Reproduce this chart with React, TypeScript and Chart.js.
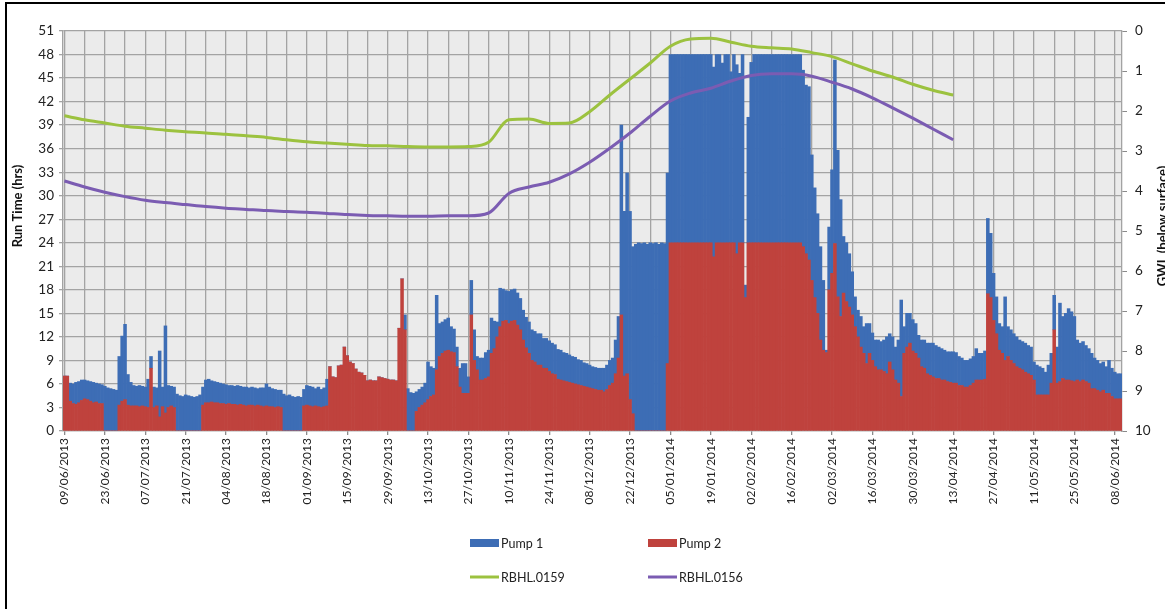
import React, { useEffect, useRef } from 'react';
import { Chart, registerables } from 'chart.js';

Chart.register(...registerables);

// Tick labels (every 14 days, starting 09/06/2013)
const tickLabels = [
  '09/06/2013', '23/06/2013', '07/07/2013', '21/07/2013', '04/08/2013', '18/08/2013',
  '01/09/2013', '15/09/2013', '29/09/2013', '13/10/2013', '27/10/2013', '10/11/2013',
  '24/11/2013', '08/12/2013', '22/12/2013', '05/01/2014', '19/01/2014', '02/02/2014',
  '16/02/2014', '02/03/2014', '16/03/2014', '30/03/2014', '13/04/2014', '27/04/2014',
  '11/05/2014', '25/05/2014', '08/06/2014',
];

// Daily run time (hrs), day 0 = 09/06/2013
const pump2 = [
  7.0, 7.0, 3.8, 3.5, 3.4, 3.6, 3.9, 4.1, 4.0, 3.8,
  3.6, 3.7, 3.5, 3.5, 0, 0, 0, 0, 0, 3.3,
  3.8, 4.0, 3.3, 3.2, 3.2, 3.2, 3.1, 3.2, 3.1, 3.0,
  8.0, 3.0, 3.2, 1.8, 3.1, 2.3, 3.0, 3.2, 3.0, 0,
  0, 0, 0, 0, 0, 0, 0, 0, 3.3, 3.6,
  3.6, 3.7, 3.6, 3.6, 3.5, 3.5, 3.4, 3.5, 3.4, 3.4,
  3.3, 3.4, 3.3, 3.2, 3.3, 3.3, 3.2, 3.3, 3.2, 3.1,
  3.2, 3.1, 3.1, 3.0, 3.1, 3.0, 0, 0, 0, 0,
  0, 0, 0, 3.2, 3.3, 3.2, 3.1, 3.2, 3.1, 3.0,
  3.1, 3.2, 8.2, 6.9, 6.8, 8.3, 8.4, 10.7, 9.6, 8.8,
  8.6, 7.9, 7.5, 7.4, 7.1, 6.4, 6.5, 6.4, 6.4, 6.9,
  6.8, 6.7, 6.6, 6.5, 6.5, 6.4, 13.1, 19.4, 12.9, 0,
  0, 0, 2.5, 3.0, 3.3, 3.6, 4.0, 4.4, 4.6, 7.8,
  9.5, 9.9, 10.2, 10.3, 10.1, 10.0, 8.2, 5.6, 4.8, 4.8,
  4.8, 14.8, 9.0, 7.8, 6.5, 6.5, 6.7, 6.9, 9.9, 10.5,
  12.0, 13.3, 14.0, 14.1, 13.7, 14.0, 14.1, 13.5, 12.9, 11.6,
  10.6, 9.9, 9.0, 8.8, 8.4, 8.4, 8.0, 8.0, 7.6, 7.3,
  7.2, 6.6, 6.5, 6.4, 6.3, 6.2, 6.1, 6.0, 5.9, 5.8,
  5.7, 5.6, 5.5, 5.4, 5.3, 5.2, 5.2, 5.0, 5.3, 5.8,
  6.1, 7.3, 9.3, 14.8, 7.0, 7.3, 4.0, 2.2, 0, 0,
  0, 0, 0, 0, 0, 0, 0, 0, 0, 8.6,
  24, 24, 24, 24, 24, 24, 24, 24, 24, 24,
  24, 24, 24, 24, 24, 22.2, 24, 24, 24, 24,
  24, 24, 24, 22.6, 24, 24, 17.0, 24, 24, 24,
  24, 24, 24, 24, 24, 24, 24, 24, 24, 24,
  24, 24, 24, 24, 24, 24, 23.5, 22.6, 21.8, 19.2,
  17.0, 15.0, 11.6, 10.3, 10.0, 18.0, 20.1, 23.9, 17.1, 14.6,
  17.6, 16.5, 15.8, 14.8, 13.3, 12.0, 10.7, 9.9, 8.6, 9.9,
  9.0, 8.2, 7.8, 7.8, 7.6, 7.3, 8.8, 7.8, 6.5, 6.1,
  4.4, 9.9, 10.7, 11.2, 10.2, 9.9, 9.3, 8.2, 8.0, 7.3,
  7.1, 6.9, 6.7, 6.7, 6.5, 6.5, 6.3, 6.2, 6.1, 6.1,
  5.8, 5.8, 5.6, 5.6, 5.8, 6.1, 6.5, 6.5, 6.5, 6.6,
  17.5, 17.0, 14.1, 12.4, 10.3, 9.9, 9.0, 9.5, 9.0, 8.6,
  8.2, 8.0, 7.8, 7.5, 7.3, 7.1, 6.5, 4.6, 4.6, 4.6,
  4.6, 4.6, 6.1, 12.9, 6.1, 6.3, 6.7, 6.5, 6.5, 6.4,
  6.3, 6.5, 6.3, 6.5, 6.3, 6.1, 5.4, 5.4, 5.2, 5.0,
  5.2, 4.8, 4.8, 4.4, 4.1, 4.1, 4.1,
];

const pump1 = [
  0, 0, 2.3, 2.5, 2.8, 2.7, 2.6, 2.4, 2.4, 2.5,
  2.6, 2.4, 2.5, 2.4, 5.7, 5.5, 5.4, 5.3, 5.2, 6.2,
  8.3, 9.6, 3.9, 3.0, 2.6, 2.5, 2.7, 2.5, 2.5, 3.6,
  1.5, 2.6, 2.3, 8.4, 2.5, 11.1, 2.8, 2.5, 2.6, 4.7,
  4.5, 4.4, 4.6, 4.5, 4.4, 4.3, 4.4, 4.6, 2.3, 2.9,
  3.0, 2.7, 2.7, 2.6, 2.6, 2.5, 2.5, 2.3, 2.4, 2.3,
  2.5, 2.3, 2.3, 2.4, 2.2, 2.3, 2.3, 2.1, 2.3, 2.4,
  2.8, 2.5, 2.3, 2.3, 2.1, 2.2, 4.7, 4.5, 4.6, 4.4,
  4.3, 4.4, 4.3, 2.1, 2.5, 2.5, 2.5, 2.2, 2.5, 2.3,
  2.4, 3.4, 0, 0, 0, 0, 0, 0, 0, 0,
  0, 0, 0, 0, 0, 0, 0, 0, 0, 0,
  0, 0, 0, 0, 0, 0, 0, 0, 1.9, 5.4,
  4.9, 4.8, 2.5, 2.3, 2.3, 2.5, 4.8, 3.8, 3.4, 9.5,
  4.2, 4.0, 4.0, 4.1, 3.2, 3.0, 2.5, 2.4, 3.8, 3.8,
  2.1, 4.4, 3.9, 1.7, 2.8, 2.8, 3.3, 3.4, 4.5, 3.5,
  1.9, 4.9, 4.1, 3.8, 4.1, 4.0, 4.0, 4.1, 4.0, 3.8,
  3.9, 4.0, 3.9, 3.9, 4.0, 4.0, 3.8, 3.8, 3.9, 3.9,
  3.8, 3.8, 3.8, 3.6, 3.6, 3.5, 3.4, 3.4, 3.2, 3.2,
  3.0, 3.0, 2.9, 2.8, 2.8, 2.8, 2.8, 3.0, 3.1, 3.2,
  3.2, 4.3, 5.3, 24.2, 21.0, 25.6, 24.0, 21.3, 23.8, 24.0,
  23.9, 24.0, 23.8, 24.0, 23.9, 24.0, 23.8, 24.0, 23.9, 24.3,
  24, 24, 24, 24, 24, 24, 24, 24, 24, 24,
  24, 24, 24, 24, 24, 24.2, 24, 24, 22.9, 24,
  24, 21.8, 24, 24.1, 21.6, 24, 1.6, 16.0, 23.0, 24,
  24, 24, 24, 24, 24, 24, 24, 24, 24, 24,
  24, 24, 24, 24, 24, 24, 22.5, 21.5, 22.1, 16.0,
  14.0, 12.7, 11.9, 8.9, 0.3, 8.0, 13.2, 23.4, 18.7, 14.9,
  7.2, 7.5, 6.8, 5.5, 3.8, 3.4, 3.9, 3.4, 5.1, 3.8,
  3.5, 3.4, 3.8, 3.6, 4.0, 4.7, 3.6, 4.2, 4.2, 5.5,
  12.3, 3.4, 4.3, 3.8, 4.0, 3.8, 2.9, 3.4, 3.6, 3.9,
  4.1, 4.3, 4.2, 4.0, 4.0, 3.8, 3.8, 3.9, 4.0, 3.9,
  3.7, 3.5, 3.4, 3.4, 3.4, 3.4, 4.0, 3.4, 3.4, 3.6,
  9.6, 8.2, 6.0, 4.7, 3.4, 3.4, 8.1, 3.8, 3.9, 3.8,
  3.8, 3.6, 3.6, 3.7, 3.6, 3.6, 2.3, 3.8, 3.6, 3.4,
  2.9, 3.8, 3.8, 4.4, 4.6, 10.0, 7.9, 8.5, 9.1, 8.8,
  8.3, 5.1, 4.9, 4.9, 4.6, 4.4, 4.5, 3.9, 3.8, 3.6,
  3.6, 3.4, 4.2, 3.6, 3.4, 3.2, 3.2,
];

// Groundwater level (m below surface), weekly readings from 09/06/2013
const rbhl0159 = [
  2.12, 2.22, 2.30, 2.38, 2.43, 2.48, 2.52, 2.55, 2.58, 2.62,
  2.66, 2.72, 2.77, 2.80, 2.83, 2.86, 2.87, 2.89, 2.90, 2.90,
  2.89, 2.78, 2.22, 2.20, 2.31, 2.30, 2.02, 1.60, 1.20, 0.80,
  0.38, 0.20, 0.18, 0.28, 0.38, 0.42, 0.45, 0.54, 0.64, 0.82,
  1.00, 1.15, 1.33, 1.48, 1.60,
];
const rbhl0156 = [
  3.75, 3.90, 4.03, 4.14, 4.23, 4.29, 4.34, 4.39, 4.43, 4.46,
  4.49, 4.51, 4.53, 4.56, 4.59, 4.61, 4.62, 4.63, 4.63, 4.62,
  4.62, 4.55, 4.06, 3.90, 3.78, 3.57, 3.28, 2.93, 2.55, 2.13,
  1.75, 1.55, 1.43, 1.25, 1.11, 1.07, 1.07, 1.13, 1.28, 1.45,
  1.67, 1.92, 2.18, 2.45, 2.72,
];

const LINE_STEP = 7; // days between GWL readings
const GRID_STEP = 7; // days between vertical grid lines
const LABEL_STEP = 14; // days between date labels

const BLUE = '#3d6db5';
const RED = '#bf423d';
const GREEN = '#9cc23f';
const PURPLE = '#7b5cb2';
const GRID = '#a3a3a3';
const FONT = 'Lato, "Open Sans", "DejaVu Sans", sans-serif';

const decorPlugin = {
  id: 'decor',
  beforeDraw(chart: any) {
    const { ctx, chartArea: a } = chart;
    ctx.save();
    ctx.fillStyle = '#ffffff';
    ctx.fillRect(0, 0, chart.width, chart.height);
    ctx.fillStyle = '#ebebeb';
    ctx.fillRect(a.left, a.top, a.right - a.left, a.bottom - a.top);
    ctx.restore();
  },
  afterDraw(chart: any) {
    const { ctx } = chart;
    ctx.save();
    // outer frame
    ctx.fillStyle = '#000000';
    ctx.fillRect(5, 2, 2, chart.height - 2);
    ctx.fillRect(5, 2, chart.width - 5, 2);

    // axis titles
    ctx.fillStyle = '#111111';
    ctx.font = `bold 13px ${FONT}`;
    ctx.textAlign = 'center';
    ctx.textBaseline = 'middle';
    ctx.save();
    ctx.translate(18, 206);
    ctx.rotate(-Math.PI / 2);
    ctx.fillText('Run Time (hrs)', 0, 0);
    ctx.restore();
    ctx.save();
    ctx.translate(1163, 226);
    ctx.rotate(-Math.PI / 2);
    ctx.fillText('GWL (below surface)', 0, 0);
    ctx.restore();

    // legend (2 x 2)
    const items = [
      { label: 'Pump 1', kind: 'box', color: BLUE, x: 470, y: 543 },
      { label: 'Pump 2', kind: 'box', color: RED, x: 648, y: 543 },
      { label: 'RBHL.0159', kind: 'line', color: GREEN, x: 470, y: 577 },
      { label: 'RBHL.0156', kind: 'line', color: PURPLE, x: 648, y: 577 },
    ];
    ctx.font = `12.5px ${FONT}`;
    ctx.textAlign = 'left';
    items.forEach((it) => {
      if (it.kind === 'box') {
        ctx.fillStyle = it.color;
        ctx.fillRect(it.x, it.y - 4, 29, 8);
      } else {
        ctx.strokeStyle = it.color;
        ctx.lineWidth = 3;
        ctx.beginPath();
        ctx.moveTo(it.x, it.y);
        ctx.lineTo(it.x + 29, it.y);
        ctx.stroke();
      }
      ctx.fillStyle = '#222222';
      ctx.fillText(it.label, it.x + 31, it.y + 1);
    });
    ctx.restore();
  },
};

export default function App() {
  const ref = useRef<HTMLCanvasElement>(null);

  useEffect(() => {
    document.body.style.margin = '0';
    if (!ref.current) return;
    const nDays = pump1.length;
    const lastLabelDay = (tickLabels.length - 1) * LABEL_STEP;

    const chart = new Chart(ref.current, {
      type: 'bar',
      data: {
        datasets: [
          {
            type: 'line',
            label: 'RBHL.0159',
            data: rbhl0159.map((y, k) => ({ x: k * LINE_STEP, y })),
            yAxisID: 'y2',
            borderColor: GREEN,
            backgroundColor: GREEN,
            borderWidth: 3,
            pointRadius: 0,
            cubicInterpolationMode: 'monotone',
            order: 0,
          } as any,
          {
            type: 'line',
            label: 'RBHL.0156',
            data: rbhl0156.map((y, k) => ({ x: k * LINE_STEP, y })),
            yAxisID: 'y2',
            borderColor: PURPLE,
            backgroundColor: PURPLE,
            borderWidth: 3,
            pointRadius: 0,
            cubicInterpolationMode: 'monotone',
            order: 0,
          } as any,
          {
            type: 'bar',
            label: 'Pump 2',
            data: pump2.map((y, i) => ({ x: i, y })),
            yAxisID: 'y',
            stack: 'pumps',
            backgroundColor: RED,
            borderWidth: 0,
            barPercentage: 1,
            categoryPercentage: 1,
            order: 1,
          } as any,
          {
            type: 'bar',
            label: 'Pump 1',
            data: pump1.map((y, i) => ({ x: i, y })),
            yAxisID: 'y',
            stack: 'pumps',
            backgroundColor: BLUE,
            borderWidth: 0,
            barPercentage: 1,
            categoryPercentage: 1,
            order: 1,
          } as any,
        ],
      },
      options: {
        responsive: false,
        animation: false,
        devicePixelRatio: 1,
        layout: { padding: { top: 31, left: 0, right: 0, bottom: 0 } },
        plugins: {
          legend: { display: false },
          tooltip: { enabled: false },
        },
        scales: {
          x: {
            type: 'linear',
            min: -0.5,
            max: nDays - 0.5,
            offset: false,
            afterBuildTicks: (scale: any) => {
              const t: any[] = [];
              for (let d = 0; d <= lastLabelDay; d += GRID_STEP) t.push({ value: d });
              scale.ticks = t;
            },
            afterFit: (scale: any) => {
              scale.height = 178;
            },
            grid: {
              offset: false,
              color: GRID,
              lineWidth: 1.3,
              tickLength: 4,
              tickColor: (ctx: any) =>
                ctx.tick && ctx.tick.value % LABEL_STEP === 0 ? '#8a8a8a' : 'rgba(0,0,0,0)',
            },
            border: { display: true, color: GRID, width: 1.3 },
            ticks: {
              autoSkip: false,
              maxRotation: 90,
              minRotation: 90,
              padding: 3,
              color: '#222222',
              font: { family: FONT, size: 12 },
              callback: (v: any) => {
                const n = Math.round(Number(v));
                return n % LABEL_STEP === 0 ? tickLabels[n / LABEL_STEP] : '';
              },
            },
          },
          y: {
            type: 'linear',
            position: 'left',
            stacked: true,
            min: 0,
            max: 51,
            afterFit: (scale: any) => {
              scale.width = 63;
            },
            grid: { color: GRID, lineWidth: 1.3, tickLength: 4 },
            border: { display: true, color: GRID, width: 1.3 },
            ticks: {
              stepSize: 3,
              padding: 5,
              color: '#222222',
              font: { family: FONT, size: 13.5 },
            },
          },
          y2: {
            type: 'linear',
            position: 'right',
            reverse: true,
            min: 0,
            max: 10,
            afterFit: (scale: any) => {
              scale.width = 43;
            },
            grid: { drawOnChartArea: false, tickLength: 5, tickColor: '#8a8a8a' },
            border: { display: true, color: GRID, width: 1.3 },
            ticks: {
              stepSize: 1,
              padding: 8,
              color: '#222222',
              font: { family: FONT, size: 13.5 },
            },
          },
        },
      } as any,
      plugins: [decorPlugin],
    });

    return () => chart.destroy();
  }, []);

  return (
    <div style={{ width: 1165, height: 609, position: 'relative' }}>
      <canvas ref={ref} width={1165} height={609} style={{ display: 'block' }} />
    </div>
  );
}
